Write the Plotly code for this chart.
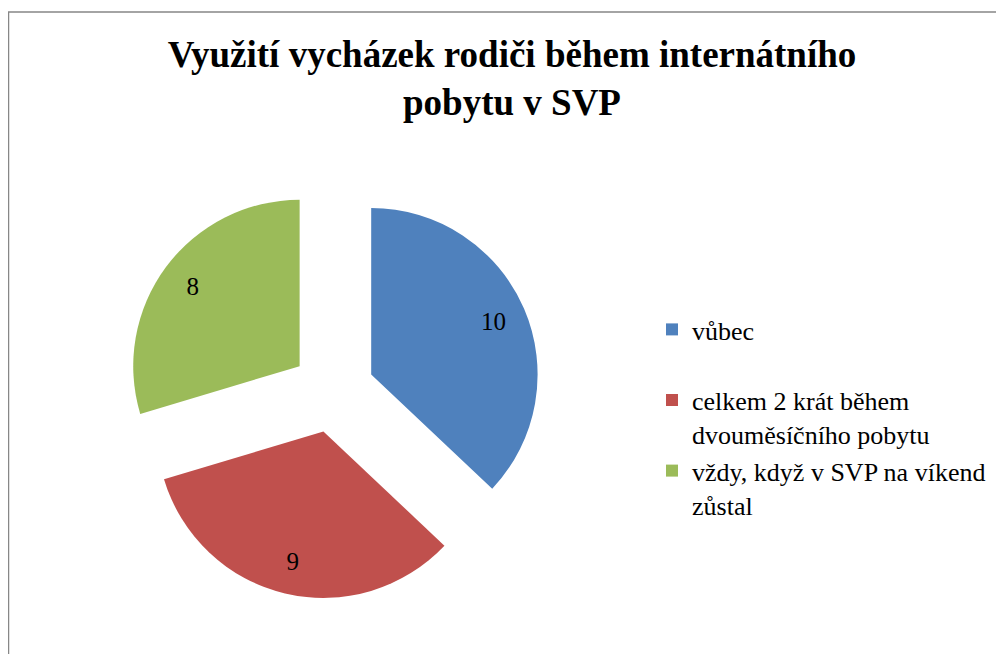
import plotly.graph_objects as go

# data
labels = [
    "vůbec",
    "celkem 2 krát během<br>dvouměsíčního pobytu",
    "vždy, když v SVP na víkend<br>zůstal",
]
values = [10, 9, 8]
colors = ["#4F81BD", "#C0504D", "#9BBB59"]

# page has an 8px body margin, so the figure is a bit smaller than the window
W, H = 996, 646
OFF = 8


def px(x):
    return (x - OFF) / W


def py(y):
    return 1 - (y - OFF) / H


pull = 0.25
dom_x = [px(125), px(541)]
dom_y = [py(599), py(183)]

# every legend entry gets two text lines, as in the Excel legend
legend_labels = [lab if "<br>" in lab else lab + "<br> " for lab in labels]

fig = go.Figure()

# the coloured slices
fig.add_trace(
    go.Pie(
        labels=legend_labels,
        values=values,
        sort=False,
        direction="clockwise",
        rotation=0,
        pull=[pull] * len(values),
        marker=dict(colors=colors, line=dict(width=0)),
        textinfo="none",
        hoverinfo="value",
        domain=dict(x=dom_x, y=dom_y),
    )
)

# transparent ring on top, only to put the value labels near the outer edge
fig.add_trace(
    go.Pie(
        labels=legend_labels,
        values=values,
        sort=False,
        direction="clockwise",
        rotation=0,
        hole=0.6,
        pull=[pull] * len(values),
        marker=dict(colors=["rgba(0,0,0,0)"] * len(values), line=dict(width=0)),
        textinfo="value",
        textposition="inside",
        insidetextorientation="horizontal",
        textfont=dict(family="Liberation Serif", size=25, color="black"),
        hoverinfo="skip",
        showlegend=False,
        domain=dict(x=dom_x, y=dom_y),
    )
)

# chart border (Excel chart area)
fig.add_shape(
    type="rect",
    xref="paper",
    yref="paper",
    x0=px(8.5),
    x1=1.02,
    y0=-0.02,
    y1=py(12),
    line=dict(color="#878787", width=1.5),
    fillcolor="rgba(0,0,0,0)",
    layer="below",
)

fig.update_layout(
    width=W,
    height=H,
    margin=dict(l=0, r=0, t=0, b=0),
    paper_bgcolor="white",
    plot_bgcolor="white",
    font=dict(family="Liberation Serif", color="black"),
    title=dict(
        text="<b>Využití vycházek rodiči během internátního<br>pobytu v SVP</b>",
        x=px(512),
        xanchor="center",
        y=py(67),
        yanchor="top",
        font=dict(family="Liberation Serif", size=37, color="black"),
    ),
    legend=dict(
        x=px(652),
        xanchor="left",
        y=py(306),
        yanchor="top",
        valign="top",
        font=dict(family="Liberation Serif", size=26, color="black"),
        bgcolor="rgba(0,0,0,0)",
        traceorder="normal",
    ),
)

fig.write_html("out.html")
